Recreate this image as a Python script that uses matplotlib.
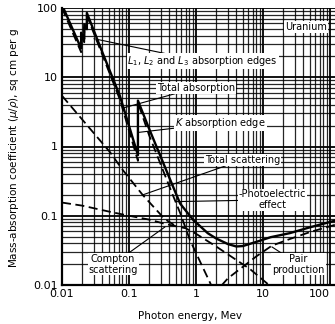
import numpy as np
import matplotlib.pyplot as plt
from matplotlib.ticker import FixedLocator, NullFormatter

# photon energy (MeV) and mass-absorption coefficients (sq cm per g)
total_abs_e = [0.0100, 0.0193, 0.0193, 0.0215, 0.0215, 0.0235, 0.0235, 0.040, 0.073,
               0.136, 0.136, 0.20, 0.45, 0.58, 0.90, 1.5, 2.0, 3.0, 4.0, 5.0, 8.0,
               13.0, 25.0, 50.0, 119.0]
total_abs = [111, 26, 44, 36, 58, 50, 85, 23, 5.4,
             0.75, 4.6, 1.8, 0.27, 0.15, 0.088, 0.056, 0.047, 0.039, 0.036, 0.0365, 0.042,
             0.049, 0.056, 0.068, 0.085]

photo_e = [0.0100, 0.0193, 0.0193, 0.0215, 0.0215, 0.0235, 0.0235, 0.073,
           0.136, 0.136, 0.20, 0.45, 0.58, 0.81, 1.2, 1.7]
photo = [100, 23, 40, 32, 53, 45, 78, 4.8,
         0.62, 4.3, 1.45, 0.2, 0.11, 0.045, 0.02, 0.0098]

tot_scat_e = [0.010, 0.052, 0.079, 0.16, 0.34, 0.50]
tot_scat = [5.4, 0.83, 0.47, 0.2, 0.09, 0.071]

compton_e = [0.010, 0.020, 0.050, 0.10, 0.20, 0.35, 0.70, 1.0, 2.0, 4.0, 6.4, 12.6]
compton = [0.155, 0.14, 0.115, 0.10, 0.088, 0.076, 0.066, 0.055, 0.036, 0.023, 0.017, 0.0098]

pair_e = [2.4, 3.0, 4.9, 8.0, 13.6, 25.0, 50.0, 119.0]
pair = [0.0098, 0.0125, 0.018, 0.026, 0.037, 0.046, 0.058, 0.074]

tick_vals = [0.01, 0.1, 1, 10, 100]
tick_labels = ['0.01', '0.1', '1', '10', '100']

fig = plt.figure(figsize=(3.35, 3.24), dpi=100)
ax = fig.add_axes([62 / 335, 39 / 324, 1 - 62 / 335, 277 / 324])
ax.set_xscale('log')
ax.set_yscale('log')
ax.set_xlim(0.01, 119)
ax.set_ylim(0.01, 100)

minor = [m * 10.0 ** k for k in range(-2, 3) for m in range(2, 10)]
ax.xaxis.set_minor_locator(FixedLocator(minor))
ax.yaxis.set_minor_locator(FixedLocator(minor))
ax.xaxis.set_minor_formatter(NullFormatter())
ax.yaxis.set_minor_formatter(NullFormatter())
ax.set_xticks(tick_vals)
ax.set_xticklabels(tick_labels)
ax.set_yticks(tick_vals)
ax.set_yticklabels(tick_labels)
ax.grid(True, which='major', color='black', lw=1.3)
ax.grid(True, which='minor', color='black', lw=0.9, alpha=0.85)
ax.tick_params(which='both', length=0, labelsize=8, pad=3)
# last x label would run off the right edge
ax.get_xticklabels()[-1].set_horizontalalignment('right')
for s in ['top', 'right']:
    ax.spines[s].set_visible(False)
for s in ['left', 'bottom']:
    ax.spines[s].set_linewidth(1.6)

dash = (0, (5, 2.5))
ax.plot(total_abs_e, total_abs, color='black', lw=1.7)
ax.plot(photo_e, photo, color='black', lw=1.3, ls=dash)
ax.plot(tot_scat_e, tot_scat, color='black', lw=1.3, ls=dash)
ax.plot(compton_e, compton, color='black', lw=1.3, ls=dash)
ax.plot(pair_e, pair, color='black', lw=1.3, ls=dash)

fs = 7
box = dict(facecolor='white', edgecolor='none', pad=0.6)
lead = dict(arrowstyle='-', color='black', lw=0.8, shrinkA=0, shrinkB=0)

ax.text(21.3, 53, 'Uranium', fontsize=fs, va='center', bbox=box)
ax.annotate('$L_1$, $L_2$ and $L_3$ absorption edges', xy=(0.03, 36), xytext=(0.095, 17),
            fontsize=fs, va='center', bbox=box, arrowprops=lead)
ax.annotate('Total absorption', xy=(0.082, 3.6), xytext=(0.26, 7.0),
            fontsize=fs, va='center', bbox=box, arrowprops=lead)
ax.annotate('$K$ absorption edge', xy=(0.14, 1.6), xytext=(0.49, 2.2),
            fontsize=fs, va='center', bbox=box, arrowprops=lead)
ax.annotate('Total scattering', xy=(0.16, 0.2), xytext=(1.36, 0.64),
            fontsize=fs, va='center', bbox=box, arrowprops=lead)
ax.annotate('-Photoelectric\neffect', xy=(0.5, 0.16), xytext=(14, 0.17),
            fontsize=fs, va='center', ha='center', linespacing=1.1, bbox=box, arrowprops=lead)
ax.annotate('Compton\nscattering', xy=(0.345, 0.069), xytext=(0.058, 0.02),
            fontsize=fs, va='center', ha='center', linespacing=1.1, bbox=box, arrowprops=lead)
ax.annotate('Pair\nproduction', xy=(13.6, 0.0355), xytext=(34, 0.02),
            fontsize=fs, va='center', ha='center', linespacing=1.1, bbox=box, arrowprops=lead)

fig.text(190 / 335, 1 - 316 / 324, 'Photon energy, Mev', fontsize=7.5, ha='center', va='center')
fig.text(14 / 335, 1 - 148 / 324, r'Mass-absorption coefficient ($\mu/\rho$), sq cm per g',
         fontsize=7.5, rotation=90, ha='center', va='center')

fig.savefig('out.png', dpi=100)
